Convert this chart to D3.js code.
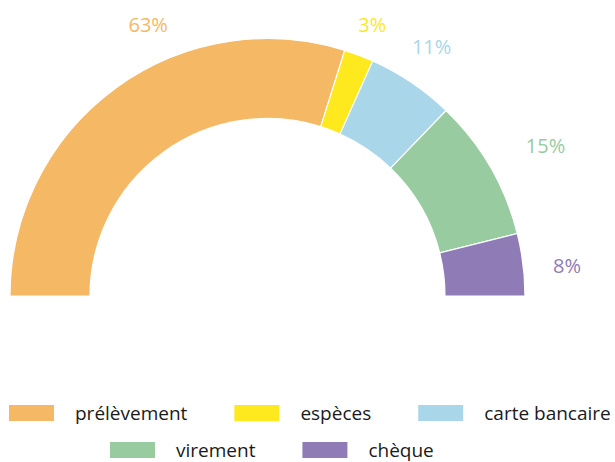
<!DOCTYPE html>
<html lang="fr">
<head>
<meta charset="utf-8">
<title>Moyens de paiement</title>
<script src="https://d3js.org/d3.v7.min.js"></script>
<style>
  body { margin: 0; background: #fff; }
  svg { display: block; font-family: "Open Sans", "Noto Sans", sans-serif; }
</style>
</head>
<body>
<svg id="chart" width="615" height="462"></svg>
<script>
// data
var categories = ["prélèvement", "espèces", "carte bancaire", "virement", "chèque"];
// shares as drawn in the arcs
var values = [59.7, 3.7, 11.0, 17.8, 7.8];
// percentages as printed on the labels
var pctLabels = ["63%", "3%", "11%", "15%", "8%"];
var colors = ["#f5b865", "#fde91e", "#a9d6e9", "#99cba1", "#8f7cb6"];

// label placement tweaks (degrees / px), layout only
var labelShift = [12.5, 0.3, -0.6, 1.7, 1.3];
var labelRadius = [296, 291, 298, 316, 301];

var svg = d3.select("#chart");
var cx = 267.5, cy = 296;
var outerR = 257.5, innerR = 177.5;

var pie = d3.pie()
  .sort(null)
  .startAngle(-Math.PI / 2)
  .endAngle(Math.PI / 2)
  .value(function(d) { return d; });

var arc = d3.arc().innerRadius(innerR).outerRadius(outerR);

var arcs = pie(values);

var g = svg.append("g").attr("transform", "translate(" + cx + "," + cy + ")");

g.selectAll("path.slice")
  .data(arcs)
  .enter()
  .append("path")
  .attr("class", "slice")
  .attr("d", arc)
  .attr("fill", function(d, i) { return colors[i]; })
  .attr("stroke", "#fff")
  .attr("stroke-width", 1.2);

// percentage labels
function labelPos(d, i) {
  var a = (d.startAngle + d.endAngle) / 2 + labelShift[i] * Math.PI / 180;
  return [labelRadius[i] * Math.sin(a), -labelRadius[i] * Math.cos(a)];
}

g.selectAll("text.pct")
  .data(arcs)
  .enter()
  .append("text")
  .attr("class", "pct")
  .attr("x", function(d, i) { return labelPos(d, i)[0]; })
  .attr("y", function(d, i) { return labelPos(d, i)[1]; })
  .attr("text-anchor", "middle")
  .attr("dy", "0.35em")
  .attr("font-size", 20)
  .attr("fill", function(d, i) { return colors[i]; })
  .text(function(d, i) { return pctLabels[i]; });

// legend, flowing in two rows
var rows = [[0, 1, 2], [3, 4]];
var rowLeft = [9, 110];
var rowY = [413, 450];
var swW = 45, swH = 16, swGap = 21, itemGap = 47;

var legend = svg.append("g");
rows.forEach(function(row, r) {
  var x = rowLeft[r];
  row.forEach(function(i) {
    var item = legend.append("g").attr("transform", "translate(" + x + "," + rowY[r] + ")");
    item.append("rect")
      .attr("x", 0)
      .attr("y", -swH / 2)
      .attr("width", swW)
      .attr("height", swH)
      .attr("fill", colors[i]);
    var t = item.append("text")
      .attr("x", swW + swGap)
      .attr("dy", "0.35em")
      .attr("font-size", 19)
      .attr("fill", "#1a1a1a")
      .text(categories[i]);
    x += swW + swGap + t.node().getComputedTextLength() + itemGap;
  });
});
</script>
</body>
</html>
